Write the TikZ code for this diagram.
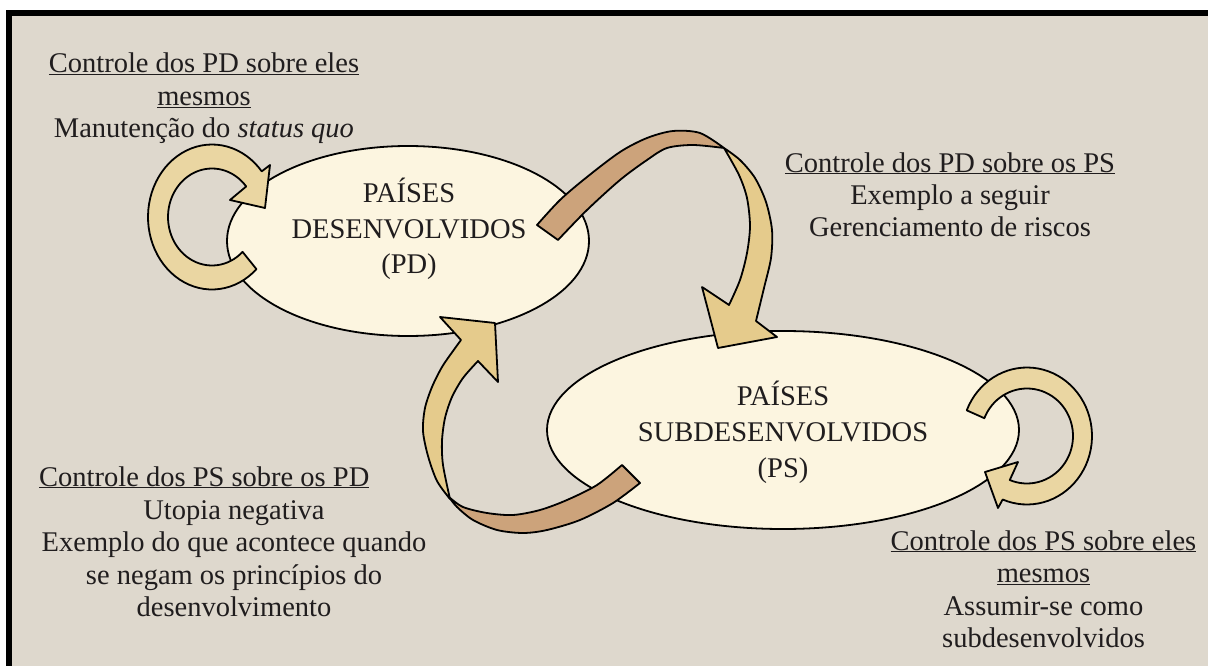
\documentclass[tikz,border=0pt]{standalone}
\usepackage{fontspec}
\setmainfont{Liberation Serif}
\usetikzlibrary{shapes.geometric}
\definecolor{stone}{RGB}{222,216,205}
\definecolor{cream}{RGB}{252,245,224}
\definecolor{gold}{RGB}{229,203,140}
\definecolor{paleGold}{RGB}{234,214,162}
\definecolor{tan}{RGB}{204,163,123}
\definecolor{ink}{RGB}{32,29,30}
\tikzset{country/.style={ellipse, draw, line width=1.8pt, fill=cream, inner sep=0pt},
countrytext/.style={anchor=base, inner sep=0pt, text=ink, font=\fontsize{28.5}{36}\selectfont},
notetext/.style={anchor=base, inner sep=0pt, text=ink, font=\fontsize{28.5}{32.5}\selectfont},
ribbon/.style={draw, line width=1.8pt, line join=round}}

\begin{document}
\begin{tikzpicture}[x=1pt,y=-1pt]
\useasboundingbox (0,0) rectangle (1208,666);
\fill[white] (0,0) rectangle (1208,666);
\fill[stone] (12,16) rectangle (1208,666);
\draw[line width=6pt] (9,666) -- (9,13) -- (1208,13);

\node[country, minimum width=362pt, minimum height=190pt] (pd) at (408,241) {};
\node[country, minimum width=472pt, minimum height=198pt] (ps) at (783,430) {};

\filldraw[ribbon, fill=gold] plot[smooth] coordinates {(724,148) (740,160) (755,178) (766,202) (772,230) (771,258) (764,288) (756,321)}
  -- (777,337) -- (718,348) -- (702,287)
  -- plot[smooth] coordinates {(729,305) (740,280) (747,253) (750,226) (747,198) (739,175) (724,148)} -- cycle;
\filldraw[ribbon, fill=tan] plot[smooth] coordinates {(537,225) (560,200) (587,177) (620,152) (647,138) (673,131) (700,133) (724,148)}
  -- plot[smooth] coordinates {(724,148) (693,145) (667,148) (647,160) (620,180) (587,210) (558,240)} -- cycle;

\filldraw[ribbon, fill=gold] plot[smooth] coordinates {(450,499) (437,481) (428,456) (423,431) (425,408) (432,387) (442,367) (453,351) (461,340)}
  -- (440,317) -- (495,323) -- (498,382)
  -- plot[smooth] coordinates {(478,361) (463,378) (452,397) (445,418) (442,441) (443,465) (450,499)} -- cycle;
\filldraw[ribbon, fill=tan] plot[smooth] coordinates {(622,465) (597,485) (567,500) (540,510) (513,515) (487,513) (463,507) (449,497)}
  -- plot[smooth] coordinates {(449,497) (457,507) (473,520) (497,530) (523,533) (547,530) (580,520) (613,503) (640,483)} -- cycle;

\filldraw[ribbon, fill=paleGold] plot[domain=39:314, samples=60] ({212+64*cos(\x)},{217-72.5*sin(\x)})
  -- plot[domain=314:39, samples=60] ({212+44*cos(\x)},{217-48.5*sin(\x)})
  -- (230,200) -- (265,208) -- (270,165) -- cycle;
\filldraw[ribbon, fill=paleGold] plot[domain=158:-112, samples=60] ({1027+65*cos(\x)},{436-68.5*sin(\x)})
  -- (998,508) -- (985,472) -- (1018,462)
  -- plot[domain=-112:158, samples=60] ({1027+46*cos(\x)},{436-47.5*sin(\x)}) -- cycle;

\node[countrytext] (pdname) at ([xshift=1pt,yshift=39pt]pd.center) {\begin{tabular}[t]{@{}c@{}}PAÍSES\\DESENVOLVIDOS\\(PD)\end{tabular}};
\node[countrytext] (psname) at ([yshift=25pt]ps.center) {\begin{tabular}[t]{@{}c@{}}PAÍSES\\SUBDESENVOLVIDOS\\(PS)\end{tabular}};

\node[notetext] (pdself) at (204,73) {\begin{tabular}[t]{@{}c@{}}\underline{Controle dos PD sobre eles}\\\underline{mesmos}\\Manutenção do \textit{status quo}\end{tabular}};
\node[notetext] (pdps) at (950,172) {\begin{tabular}[t]{@{}c@{}}\underline{Controle dos PD sobre os PS}\\Exemplo a seguir\\Gerenciamento de riscos\end{tabular}};
\node[notetext, anchor=base west] (pspdtitle) at (39,486) {\underline{Controle dos PS sobre os PD}};
\node[notetext] (pspd) at (234,519) {\begin{tabular}[t]{@{}c@{}}Utopia negativa\\Exemplo do que acontece quando\\se negam os princípios do\\desenvolvimento\end{tabular}};
\node[notetext] (psself) at (1043.5,550) {\begin{tabular}[t]{@{}c@{}}\underline{Controle dos PS sobre eles}\\\underline{mesmos}\\Assumir-se como\\subdesenvolvidos\end{tabular}};
\end{tikzpicture}
\end{document}
